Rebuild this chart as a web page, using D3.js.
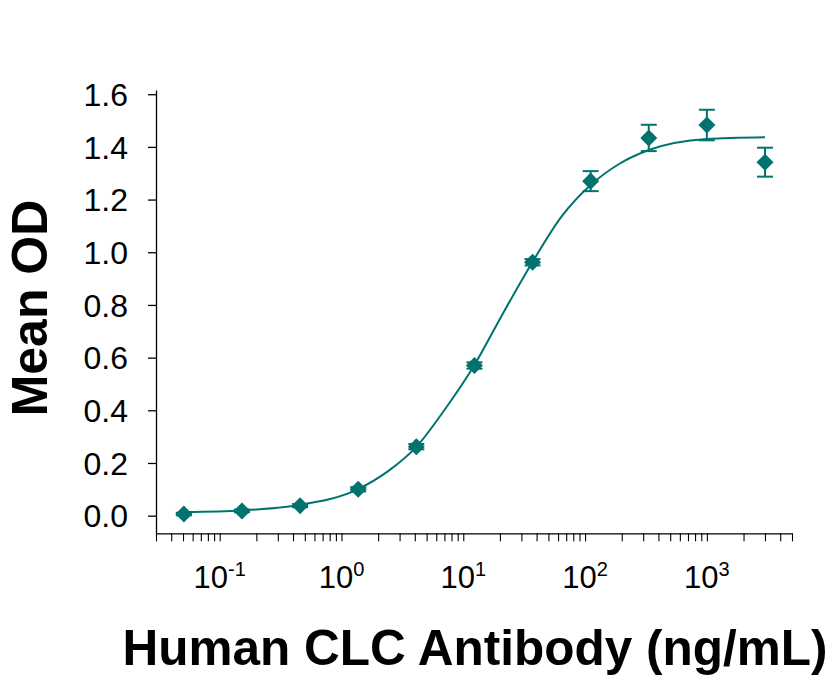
<!DOCTYPE html>
<html>
<head>
<meta charset="utf-8">
<script src="https://cdn.jsdelivr.net/npm/d3@7"></script>
<style>
  body { margin: 0; background: #fff; }
  svg { display: block; }
</style>
</head>
<body>
<svg id="chart" width="831" height="681"></svg>
<script>
// Measured points (3-fold dilution series)
var conc = [3000, 1000, 333.3, 111.1, 37.04, 12.35, 4.115, 1.372, 0.4572, 0.1524, 0.0508];
var meanOD = [1.342, 1.483, 1.434, 1.270, 0.962, 0.570, 0.262, 0.100, 0.038, 0.018, 0.006];
var semOD = [0.055, 0.058, 0.050, 0.038, 0.012, 0.012, 0.010, 0.008, 0.006, 0.005, 0.005];

// Fitted curve
var fitConc = [0.0508, 0.1524, 0.4572, 1.372, 2.4, 4.115, 7.1, 12.35, 21, 37.04, 64, 111.1, 190, 333.3, 1000, 3000];
var fitOD = [0.014, 0.020, 0.041, 0.101, 0.168, 0.261, 0.405, 0.572, 0.765, 0.963, 1.135, 1.255, 1.335, 1.388, 1.430, 1.437];

var yTicks = [0, 0.2, 0.4, 0.6, 0.8, 1.0, 1.2, 1.4, 1.6];
var xTicksMajor = [0.1, 1, 10, 100, 1000];
var xExponents = ['-1', '0', '1', '2', '3'];

var colour = '#00736e',
  fontFam = '"Liberation Sans", Arial, Helvetica, sans-serif';

var svg = d3.select('#chart');
svg.append('rect').attr('width', 831).attr('height', 681).attr('fill', '#fff');

var x = d3.scaleLog()
  .domain([0.03, 5000])
  .range([156, 792]);

var y = d3.scaleLinear()
  .domain([-0.067, 1.616])
  .range([533.3, 90]);

// Y axis
var yAxis = svg.append('g')
  .attr('transform', 'translate(156,0)')
  .call(d3.axisLeft(y).tickValues(yTicks).tickSize(8).tickSizeOuter(0).tickFormat(d3.format('.1f')));
yAxis.select('.domain').attr('stroke', '#000').attr('stroke-width', 1.3);
yAxis.selectAll('.tick line').attr('stroke', '#000').attr('stroke-width', 1.3);
yAxis.selectAll('.tick text')
  .attr('x', -28)
  .attr('dy', '0.35em')
  .style('font-family', fontFam)
  .style('font-size', '32px')
  .attr('fill', '#000');

// X axis (log, minor ticks, labels drawn separately)
var xAxis = svg.append('g')
  .attr('transform', 'translate(0,533.3)')
  .call(d3.axisBottom(x).tickSize(8).tickSizeOuter(0).tickFormat(''));
xAxis.select('.domain').attr('stroke', '#000').attr('stroke-width', 1.3);
xAxis.selectAll('.tick line').attr('stroke', '#000').attr('stroke-width', 1.1);

var xLab = svg.append('g').selectAll('text')
  .data(xTicksMajor)
  .enter()
  .append('text')
  .attr('x', function(d) { return x(d); })
  .attr('y', 588)
  .attr('text-anchor', 'middle')
  .style('font-family', fontFam)
  .style('font-size', '31px')
  .attr('fill', '#000');
xLab.append('tspan').text('10');
xLab.append('tspan')
  .attr('dy', -12)
  .style('font-size', '20px')
  .text(function(d, i) { return xExponents[i]; });

// Axis titles
svg.append('text')
  .attr('transform', 'translate(47,308) rotate(-90)')
  .attr('text-anchor', 'middle')
  .style('font-family', fontFam)
  .style('font-weight', 'bold')
  .style('font-size', '50px')
  .text('Mean OD');

svg.append('text')
  .attr('x', 475)
  .attr('y', 665)
  .attr('text-anchor', 'middle')
  .style('font-family', fontFam)
  .style('font-weight', 'bold')
  .style('font-size', '49.5px')
  .text('Human CLC Antibody (ng/mL)');

// Fit curve
var fitData = fitConc.map(function(c, i) { return {c: c, v: fitOD[i]}; });
var line = d3.line()
  .x(function(d) { return x(d.c); })
  .y(function(d) { return y(d.v); })
  .curve(d3.curveMonotoneX);
svg.append('path')
  .datum(fitData)
  .attr('d', line)
  .attr('fill', 'none')
  .attr('stroke', colour)
  .attr('stroke-width', 2);

// Error bars + markers
var pts = conc.map(function(c, i) { return {c: c, v: meanOD[i], e: semOD[i]}; });
var capW = 8;
var eb = svg.append('g').selectAll('g')
  .data(pts)
  .enter()
  .append('g')
  .attr('stroke', colour)
  .attr('stroke-width', 2);
eb.append('line')
  .attr('x1', function(d) { return x(d.c); })
  .attr('x2', function(d) { return x(d.c); })
  .attr('y1', function(d) { return y(d.v - d.e); })
  .attr('y2', function(d) { return y(d.v + d.e); });
eb.append('line')
  .attr('x1', function(d) { return x(d.c) - capW; })
  .attr('x2', function(d) { return x(d.c) + capW; })
  .attr('y1', function(d) { return y(d.v + d.e); })
  .attr('y2', function(d) { return y(d.v + d.e); });
eb.append('line')
  .attr('x1', function(d) { return x(d.c) - capW; })
  .attr('x2', function(d) { return x(d.c) + capW; })
  .attr('y1', function(d) { return y(d.v - d.e); })
  .attr('y2', function(d) { return y(d.v - d.e); });

svg.append('g').selectAll('path')
  .data(pts)
  .enter()
  .append('path')
  .attr('d', d3.symbol(d3.symbolSquare, 145))
  .attr('transform', function(d) { return 'translate(' + x(d.c) + ',' + y(d.v) + ') rotate(45)'; })
  .attr('fill', colour);
</script>
</body>
</html>
